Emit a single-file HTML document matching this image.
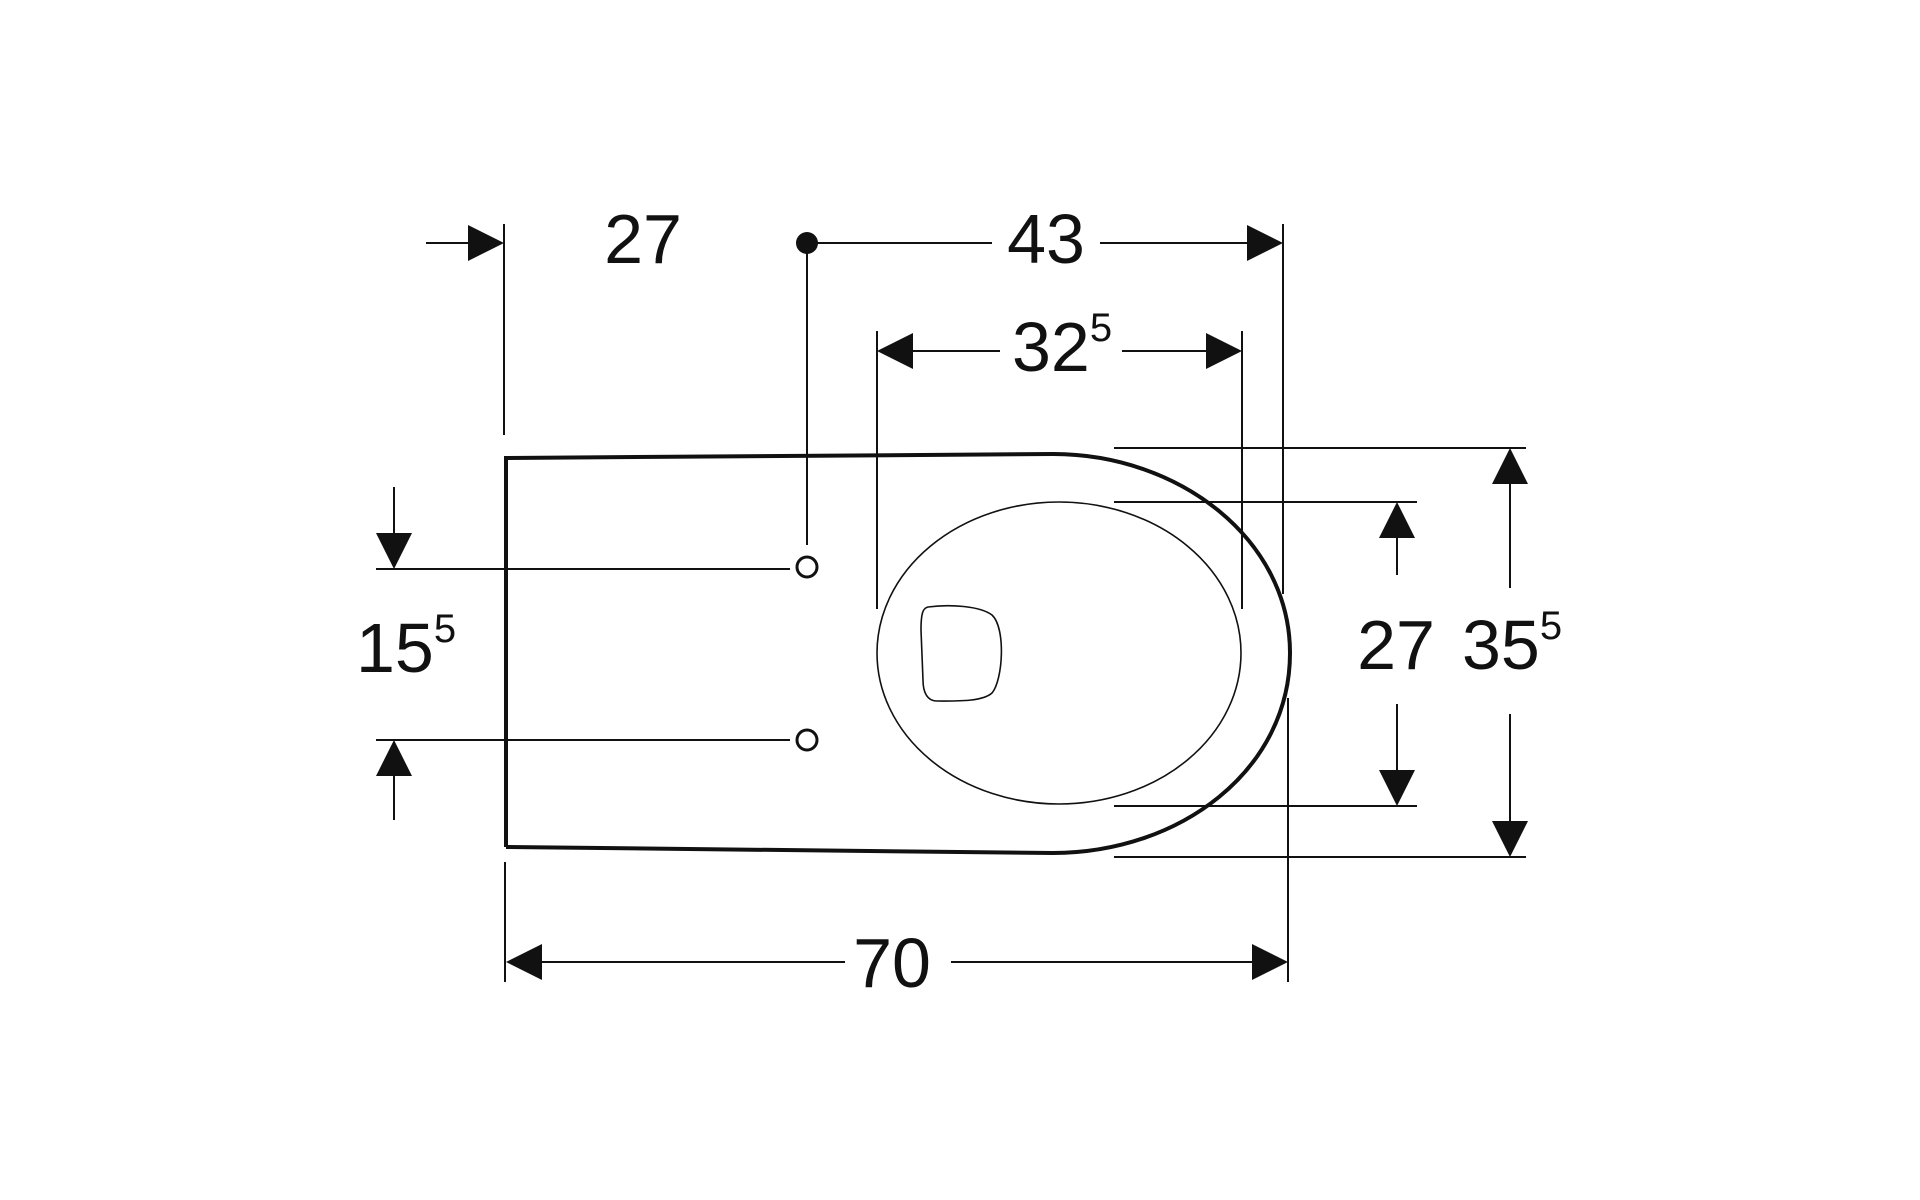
<!DOCTYPE html>
<html><head><style>html,body{margin:0;padding:0;background:#fff}svg{display:block}text{font-family:"Liberation Sans",Arial,sans-serif;fill:#111}</style></head>
<body>
<svg width="1920" height="1200" viewBox="0 0 1920 1200" xmlns="http://www.w3.org/2000/svg">
<g stroke="#111" stroke-width="2" fill="none">
<line x1="504" y1="224" x2="504" y2="435"/>
<line x1="505" y1="862" x2="505" y2="982"/>
<line x1="1283" y1="224" x2="1283" y2="594"/>
<line x1="1288" y1="698" x2="1288" y2="982"/>
<line x1="877" y1="331" x2="877" y2="609"/>
<line x1="1242" y1="331" x2="1242" y2="609"/>
<line x1="807" y1="241" x2="807" y2="545"/>
<line x1="426" y1="243" x2="470" y2="243"/>
<line x1="807" y1="243" x2="992" y2="243"/>
<line x1="1100" y1="243" x2="1250" y2="243"/>
<line x1="900" y1="351" x2="1000" y2="351"/>
<line x1="1122" y1="351" x2="1220" y2="351"/>
<line x1="376" y1="569" x2="790" y2="569"/>
<line x1="376" y1="740" x2="790" y2="740"/>
<line x1="394" y1="487" x2="394" y2="540"/>
<line x1="394" y1="775" x2="394" y2="820"/>
<line x1="1114" y1="448" x2="1526" y2="448"/>
<line x1="1114" y1="502" x2="1417" y2="502"/>
<line x1="1114" y1="806" x2="1417" y2="806"/>
<line x1="1114" y1="857" x2="1526" y2="857"/>
<line x1="1397" y1="530" x2="1397" y2="575"/>
<line x1="1397" y1="704" x2="1397" y2="775"/>
<line x1="1510" y1="480" x2="1510" y2="588"/>
<line x1="1510" y1="714" x2="1510" y2="825"/>
<line x1="530" y1="962" x2="845" y2="962"/>
<line x1="951" y1="962" x2="1260" y2="962"/>
<ellipse cx="1059" cy="653" rx="182" ry="151" stroke-width="1.6"/>
<path d="M928,607 C950,604 980,606 992,615 C1006,628 1003,680 992,693 C982,702 955,701 937,701 C927,701 923,692 923,680 L921,630 C921,613 923,608 928,607 Z" stroke-width="1.6"/>
<circle cx="807" cy="567" r="10" stroke-width="3"/>
<circle cx="807" cy="740" r="10" stroke-width="3"/>
</g>
<path d="M506,847 L506,458 L1053,454 C1180,454 1290,540 1290,653 C1290,770 1180,853 1053,853 L506,847" fill="none" stroke="#111" stroke-width="4"/>
<g fill="#111">
<circle cx="807" cy="243" r="11"/>
<polygon points="504,243 468,225 468,261"/>
<polygon points="1283,243 1247,225 1247,261"/>
<polygon points="877,351 913,333 913,369"/>
<polygon points="1242,351 1206,333 1206,369"/>
<polygon points="394,569 376,533 412,533"/>
<polygon points="394,740 376,776 412,776"/>
<polygon points="1397,502 1379,538 1415,538"/>
<polygon points="1397,806 1379,770 1415,770"/>
<polygon points="1510,448 1492,484 1528,484"/>
<polygon points="1510,857 1492,821 1528,821"/>
<polygon points="506,962 542,944 542,980"/>
<polygon points="1288,962 1252,944 1252,980"/>
</g>
<g font-size="70" text-anchor="middle">
<text x="643" y="263">27</text>
<text x="1046" y="263">43</text>
<text x="1062" y="371">32<tspan font-size="40" dy="-30">5</tspan></text>
<text x="406" y="672">15<tspan font-size="40" dy="-30">5</tspan></text>
<text x="1396" y="669">27</text>
<text x="1512" y="669">35<tspan font-size="40" dy="-30">5</tspan></text>
<text x="892" y="987">70</text>
</g>
</svg>
</body></html>
